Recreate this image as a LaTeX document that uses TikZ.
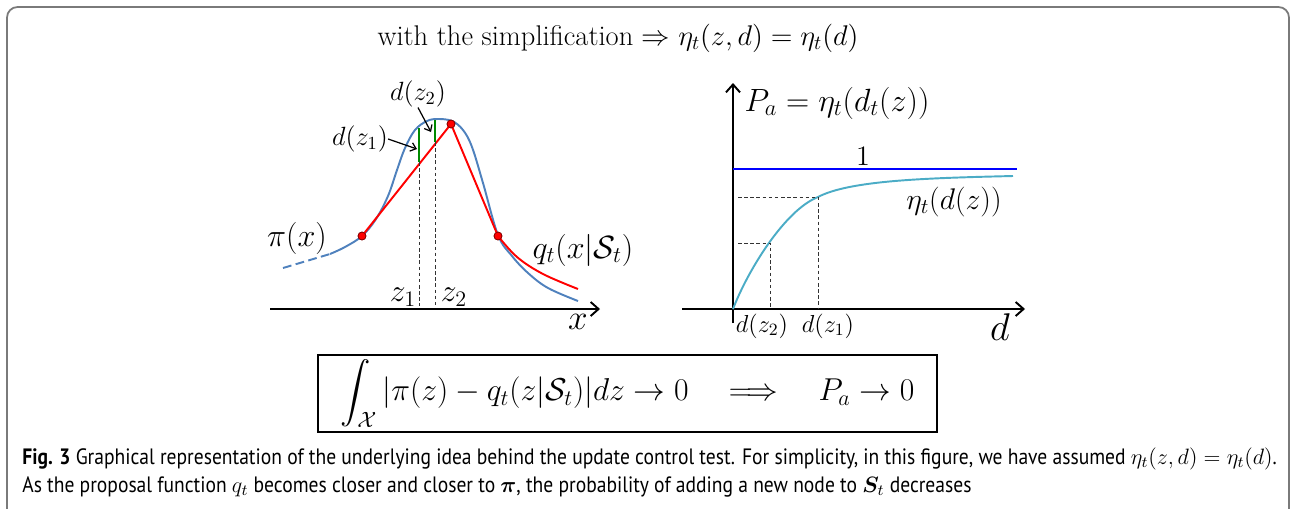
\RequirePackage{fix-cm}
\documentclass[tikz,border=0pt]{standalone}
\usepackage{fontspec}
\usepackage{amsmath,bm}
\newfontfamily\capfont[FakeStretch=0.88]{PT Sans}
\usetikzlibrary{arrows.meta, positioning, calc}
\definecolor{piBlue}{HTML}{4F81BD}
\definecolor{qRed}{HTML}{FF0000}
\definecolor{gapGreen}{HTML}{008A00}
\definecolor{etaCyan}{HTML}{4BACC6}
\definecolor{oneBlue}{HTML}{0000FF}
\definecolor{frameGray}{HTML}{7A7A7A}
\newcommand{\fsz}[1]{\fontsize{#1}{#1}\selectfont}

\begin{document}
\begin{tikzpicture}[x=0.02cm, y=-0.02cm,
  axis/.style={line width=1.1pt, -{Straight Barb[length=4.5pt,width=8pt,line width=1.1pt]}},
  guide/.style={dash pattern=on 2pt off 1.5pt, line width=0.5pt, black!80},
  knot/.style={circle, fill=red, draw=red!50!black, line width=0.4pt, inner sep=0pt, minimum size=4.5pt},
  big/.style={font=\fsz{18.3}, inner sep=0pt},
  small/.style={font=\fsz{15}, inner sep=0pt},
  pointer/.style={line width=0.7pt, -{Straight Barb[length=3pt,width=5pt]}}]
  \useasboundingbox (0,0) rectangle (1292,508);
  % rama
  \draw[frameGray, line width=1pt, rounded corners=6pt] (7,530) -- (7,7) -- (1289,7) -- (1289,530);
  % tytul
  \node[font=\fsz{16.2}] (title) at (618,38) {with the simplification $\Rightarrow \eta_t(z,d) = \eta_t(d)$};

  % ---- lewy wykres ----
  \draw[axis] (270,309) -- (600,309);
  \node[font=\fsz{20}, inner sep=0pt] (xlab) at (578,322) {$x$};
  % pi(x)
  \draw[piBlue, line width=1.1pt, dash pattern=on 5pt off 2.5pt] (283,268) -- (330,254);
  \draw[piBlue, line width=1.1pt] plot[smooth, tension=0.6] coordinates {(330,254) (345,247) (362,236) (376,219)
    (388,196) (397,170) (405,148) (415,130) (427,121) (438,119) (452,121) (463,130) (472,147)
    (483,183) (498,235) (512,256) (528,273) (548,288) (578,301)};
  % q_t
  \node[knot] (k1) at (362,236) {};
  \node[knot] (k2) at (451,124) {};
  \node[knot] (k3) at (498,236) {};
  \draw[qRed, line width=1.1pt] (k1.center) -- (k2.center) -- (k3.center);
  \draw[qRed, line width=1.1pt] plot[smooth, tension=0.6] coordinates {(498,236) (517,257) (543,274) (578,289)};
  \node[knot] at (k1) {};
  \node[knot] at (k2) {};
  \node[knot] at (k3) {};
  % odcinki d(z)
  \coordinate (g1t) at (419,128);
  \coordinate (g1b) at (419,162);
  \coordinate (g2t) at (435,120);
  \coordinate (g2b) at (435,142);
  \draw[gapGreen, line width=1.1pt] (g1t) -- (g1b);
  \draw[gapGreen, line width=1.1pt] (g2t) -- (g2b);
  \draw[guide] (g1b) -- (419,306);
  \draw[guide] (g2b) -- (435,306);
  \node[font=\fsz{18}, inner sep=0pt] (z1) at (403,297) {$z_1$};
  \node[font=\fsz{18}, inner sep=0pt] (z2) at (454,297) {$z_2$};
  \node[small] (dz2) at (418,94) {$d(z_2)$};
  \node[small] (dz1) at (360,139) {$d(z_1)$};
  \draw[pointer] (dz2.south) -- (431,132);
  \draw[pointer] (dz1.east) -- (417,149);
  \node[big] (pilab) at (297,238) {$\pi(x)$};
  \node[big] (qlab) at (583,250) {$q_t(x|\mathcal{S}_t)$};

  % ---- prawy wykres ----
  \draw[axis] (682,309) -- (1025,309);
  \draw[axis] (733,323) -- (733,83);
  \node[font=\fsz{22}, inner sep=0pt] (dlab) at (1000,327) {$d$};
  \node[big] (palab) at (837,103) {$P_a = \eta_t(d_t(z))$};
  \draw[oneBlue, line width=1.1pt] (733,169) -- (1017,169);
  \node[font=\fsz{16}, inner sep=0pt] (one) at (863,156) {$1$};
  \draw[etaCyan, line width=1.1pt] (733,309) .. controls (748,270) and (785,210) .. (818,197)
    .. controls (850,180) and (930,178) .. (1013,176);
  \node[font=\fsz{17}, inner sep=0pt] (etalab) at (954,202) {$\eta_t(d(z))$};
  \draw[guide] (738,197) -- (818,197) -- (818,309);
  \draw[guide] (738,243) -- (770,243) -- (770,309);
  \node[font=\fsz{14}, inner sep=0pt] (t2) at (762,326) {$d(z_2)$};
  \node[font=\fsz{14}, inner sep=0pt] (t1) at (828,326) {$d(z_1)$};

  % ---- kryterium ----
  \node[draw, line width=1.6pt, minimum width=12.38cm, minimum height=1.54cm, inner sep=0pt, font=\fsz{18}] (crit) at (627.5,393.5)
    {$\displaystyle\int_{\mathcal{X}} |\pi(z) - q_t(z|\mathcal{S}_t)|dz \to 0 \quad\Longrightarrow\quad P_a \to 0$};

  % ---- podpis ----
  \node[anchor=west, align=left, inner sep=0pt, font=\capfont\fontsize{12.65}{16}\selectfont] (cap) at (22,472.5)
    {\textbf{Fig. 3} Graphical representation of the underlying idea behind the update control test. For simplicity, in this figure, we have assumed $\eta_t(z,d) = \eta_t(d)$.\\
     As the proposal function $q_t$ becomes closer and closer to $\bm{\pi}$, the probability of adding a new node to $\bm{S}_t$ decreases};
\end{tikzpicture}
\end{document}
